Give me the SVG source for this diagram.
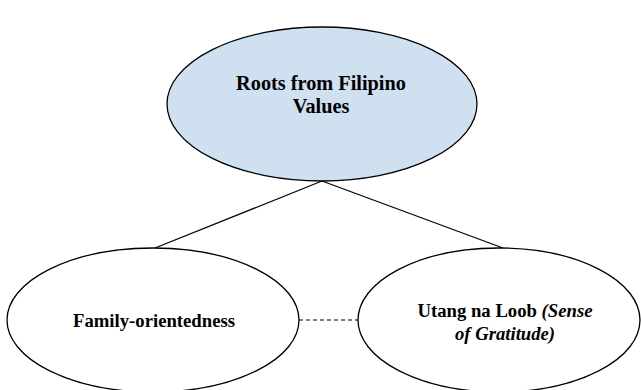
<svg xmlns="http://www.w3.org/2000/svg" width="641" height="390" viewBox="0 0 641 390">
<style>
.n{stroke:#000;stroke-width:1.3}
.t{font-family:"Liberation Serif","Times New Roman",serif;font-weight:bold;font-size:18.7px;fill:#000;text-anchor:middle}
.big{font-size:20.3px}
.c{stroke:#000;stroke-width:1.2;fill:none}
</style>
<rect width="641" height="390" fill="#fff"/>
<g id="connectors">
<line class="c" x1="322" y1="181" x2="155" y2="248"/>
<line class="c" x1="322" y1="181" x2="503" y2="248"/>
<line class="c" x1="299" y1="320" x2="358" y2="320" stroke-dasharray="4,3"/>
</g>
<g id="root">
<ellipse class="n" cx="322" cy="104" rx="155" ry="77" fill="#cfe0f1"/>
<text class="t big" x="321" y="90">Roots from Filipino</text>
<text class="t big" x="321" y="113">Values</text>
</g>
<g id="family">
<ellipse class="n" cx="153" cy="320" rx="146" ry="72" fill="#fff"/>
<text class="t" x="154" y="327">Family-orientedness</text>
</g>
<g id="utang">
<ellipse class="n" cx="499" cy="320" rx="141" ry="72" fill="#fff"/>
<text class="t" x="505" y="317">Utang na Loob <tspan font-style="italic">(Sense</tspan></text>
<text class="t" x="505" y="340" font-style="italic">of Gratitude)</text>
</g>
</svg>
